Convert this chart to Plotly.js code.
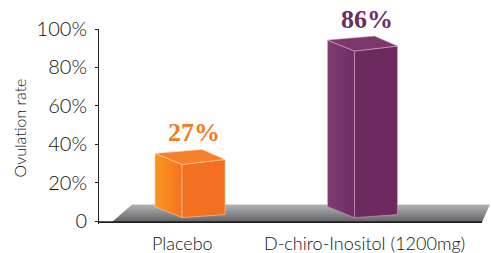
<!DOCTYPE html>
<html>
<head>
<meta charset="utf-8">
<script src="https://cdn.plot.ly/plotly-3.0.1.min.js"></script>
<style>html,body{margin:0;padding:0;background:#fff;}#chart{width:491px;height:253px;}</style>
</head>
<body>
<div id="chart"></div>
<script>
// ---- data ----
var categories = ["Placebo", "D-chiro-Inositol (1200mg)"];
var values = [27, 86];
var valueLabels = ["27%", "86%"];
var yTickVals = [0, 20, 40, 60, 80, 100];
var yTickText = ["0", "20%", "40%", "60%", "80%", "100%"];

// ---- styles / geometry ----
var xpos = [0, 1];
var FONT = "Lato, Liberation Sans, Arial, sans-serif";
var TEXT = "#111111";
var faceColors = [
  {left: ["#f8961e", "#f47321"], right: "#f37021", top: "#f5812d", edge: "rgba(255,214,170,0.8)", text: "#f47b20"},
  {left: ["#7f3e73", "#6f2d62"], right: "#6c2a5f", top: "#7a386b", edge: "rgba(226,175,214,0.7)", text: "#6e2d61"}
];
var G = {L: -0.203, F: -0.046, R: 0.203, B: 0.07, base: 1.8, topExtra: 0.7,
         dyL: 5.73, dyB: 7.8, dyR: 2.6, dyLb: 5.7, dyRb: 1.6};
var floorX = [-0.452, -0.336, 1.739, 1.693];
var floorY = [-0.5, 8.6, 8.6, -0.5];

var traces = [];
traces.push({type: "scatter", mode: "lines", x: floorX.concat([floorX[0]]), y: floorY.concat([floorY[0]]),
  fill: "toself", line: {width: 0, color: "rgba(0,0,0,0)"},
  fillgradient: {type: "vertical", start: -0.5, stop: 8.6, colorscale: [[0, "#626365"], [1, "#b2b3b5"]]},
  hoverinfo: "skip", showlegend: false});
traces.push({type: "scatter", mode: "lines", x: [-0.5275, floorX[3]], y: [-0.5, -0.5],
  line: {color: "#231f20", width: 1.6}, hoverinfo: "skip", showlegend: false});

values.forEach(function (v, i) {
  var c = xpos[i], b = G.base, t = v + G.base + G.topExtra, col = faceColors[i];
  var edge = {color: col.edge, width: 0.7};
  // left face
  traces.push({type: "scatter", mode: "lines", fill: "toself",
    x: [c + G.L, c + G.F, c + G.F, c + G.L, c + G.L],
    y: [b + G.dyLb, b, t, t + G.dyL, b + G.dyLb],
    fillgradient: {type: "horizontal", colorscale: [[0, col.left[0]], [1, col.left[1]]]},
    line: edge, hoverinfo: "skip", showlegend: false});
  // right face
  traces.push({type: "scatter", mode: "lines", fill: "toself",
    x: [c + G.F, c + G.R, c + G.R, c + G.F, c + G.F],
    y: [b, b + G.dyRb, t + G.dyR, t, b],
    fillcolor: col.right, line: edge, hoverinfo: "skip", showlegend: false});
  // top face
  traces.push({type: "scatter", mode: "lines", fill: "toself",
    x: [c + G.L, c + G.F, c + G.R, c + G.B, c + G.L],
    y: [t + G.dyL, t, t + G.dyR, t + G.dyB, t + G.dyL],
    fillcolor: col.top, line: edge, hoverinfo: "skip", showlegend: false});
});

var annotations = [];
var labelShift = [-7, 2.5];
categories.forEach(function (cat, i) {
  annotations.push({x: xpos[i], xref: "x", y: 0, yref: "paper", yanchor: "middle", xanchor: "center",
    yshift: -19, xshift: labelShift[i], text: cat, showarrow: false,
    font: {family: FONT, size: 18, weight: 300, color: TEXT}});
  annotations.push({x: xpos[i], xref: "x", y: values[i], yref: "y", yanchor: "middle", xanchor: "center",
    yshift: 36.5, xshift: 4.5, text: "<b>" + valueLabels[i] + "</b>", showarrow: false,
    font: {family: "Liberation Serif, Times New Roman, serif", size: 26, color: faceColors[i].text}});
});
annotations.push({x: -0.204, xref: "paper", y: 0.49, yref: "paper", textangle: -90,
  xanchor: "center", yanchor: "middle", text: "Ovulation rate", showarrow: false,
  font: {family: FONT, size: 16, weight: 300, color: TEXT}});

var layout = {
  width: 491, height: 253,
  margin: {l: 99, r: 0, t: 29, b: 29, pad: 0},
  paper_bgcolor: "#ffffff", plot_bgcolor: "#ffffff",
  showlegend: false,
  xaxis: {range: [-0.5275, 1.745], showgrid: false, zeroline: false, showticklabels: false,
    showline: false, ticks: "", fixedrange: true},
  yaxis: {range: [-1.5, 100], showgrid: false, zeroline: false, showline: true,
    linecolor: "#231f20", linewidth: 1, ticks: "outside", ticklen: 3, tickcolor: "#231f20",
    tickvals: yTickVals, ticktext: yTickText, ticklabelstandoff: 4,
    tickfont: {family: FONT, size: 20, weight: 300, color: TEXT}, fixedrange: true},
  annotations: annotations
};

Plotly.newPlot("chart", traces, layout, {displayModeBar: false, staticPlot: true});
</script>
</body>
</html>
